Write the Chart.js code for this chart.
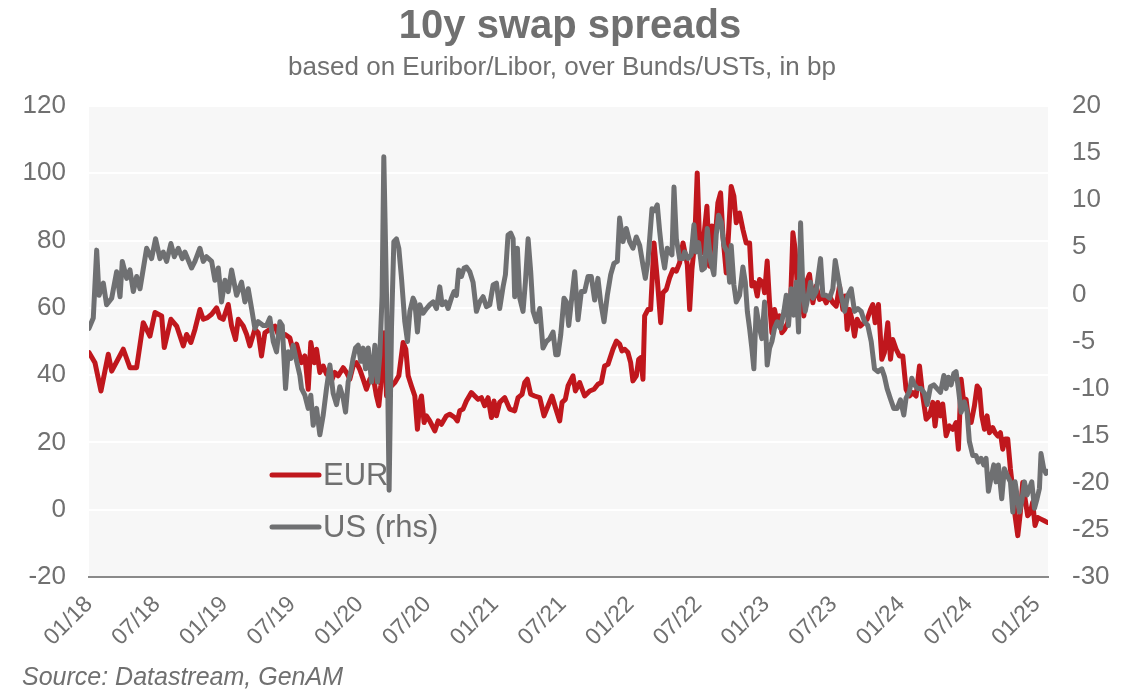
<!DOCTYPE html>
<html><head><meta charset="utf-8">
<script src="https://cdn.jsdelivr.net/npm/chart.js@4.4.1/dist/chart.umd.min.js"></script>
<style>html,body{margin:0;padding:0;background:#fff;}canvas{display:block;}</style>
</head><body>
<canvas id="c" width="1138" height="690"></canvas>
<script>
// x positions are months since Jan 2018
const tickLabels = ['01/18','07/18','01/19','07/19','01/20','07/20','01/21','07/21','01/22','07/22','01/23','07/23','01/24','07/24','01/25'];

const eurMonths = [0,0.53,1.06,1.71,2.01,3.04,3.63,4.22,4.81,5.4,5.85,6.44,6.67,7.26,7.77,8.36,8.65,9.03,9.39,9.83,10.13,10.5,10.87,11.31,11.6,11.9,12.34,12.64,12.99,13.23,13.67,13.97,14.26,14.7,15.0,15.29,15.59,16.03,16.48,16.77,17.36,17.8,18.1,18.4,18.84,19.13,19.43,19.66,19.96,20.17,20.46,20.76,21.05,21.35,21.49,21.79,22.08,22.53,22.82,23.12,23.41,23.71,24.0,24.3,24.59,24.89,25.18,25.48,25.69,25.86,26.16,26.37,26.52,26.81,27.11,27.46,27.84,28.08,28.29,28.58,28.88,29.11,29.32,29.47,29.7,29.91,30.2,30.65,30.94,31.24,31.68,31.97,32.42,32.65,32.86,33.15,33.45,33.89,34.19,34.48,34.78,35.07,35.37,35.67,35.9,36.11,36.4,36.85,37.29,37.73,38.03,38.38,38.62,38.85,39.15,39.5,39.95,40.33,40.69,41.04,41.34,41.72,41.93,42.22,42.46,42.9,43.11,43.49,43.93,44.38,44.76,45.11,45.41,45.7,46.0,46.44,46.74,47.03,47.24,47.48,47.77,48.01,48.21,48.51,48.72,48.9,49.1,49.25,49.54,49.78,50.08,50.37,50.67,50.87,51.17,51.46,51.76,52.06,52.35,52.65,53.03,53.24,53.44,53.68,53.91,54.12,54.33,54.56,54.77,55.0,55.21,55.45,55.74,55.98,56.19,56.48,56.69,56.92,57.16,57.37,57.66,57.96,58.25,58.55,58.75,58.99,59.23,59.43,59.73,59.88,60.11,60.32,60.53,60.76,61.0,61.2,61.41,61.65,61.94,62.18,62.39,62.59,62.83,63.07,63.36,63.57,63.86,64.16,64.45,64.75,65.05,65.34,65.64,65.93,66.23,66.52,66.82,67.02,67.2,67.41,67.62,67.85,68.09,68.38,68.68,68.97,69.27,69.47,69.68,69.97,70.27,70.5,70.8,71.04,71.24,71.54,71.83,72.13,72.42,72.72,73.01,73.31,73.61,73.9,74.2,74.49,74.79,74.99,75.23,75.47,75.67,75.97,76.26,76.56,76.85,77.06,77.3,77.53,77.74,77.98,78.19,78.48,78.72,78.93,79.13,79.37,79.6,79.81,80.1,80.31,80.55,80.78,80.99,81.2,81.43,81.67,81.88,82.08,82.32,82.55,82.76,82.97,83.2,83.44,83.64,83.85,84.08,84.38,84.67,84.97];
const eurValues = [46.7,43.7,35.3,46.2,41.2,47.7,42.2,42.2,55.6,51.6,58.6,57.6,48.2,56.6,54.6,48.7,52.1,49.7,53.6,59.5,56.6,57.1,58.1,60.0,57.1,56.6,61.0,54.6,50.6,56.6,54.6,52.1,48.7,53.6,52.6,45.7,52.6,53.6,54.6,52.1,52.1,51.1,47.2,49.2,43.7,45.7,35.8,49.7,43.7,47.7,40.8,42.7,40.3,41.7,38.3,40.8,39.8,42.2,40.8,38.8,42.7,43.7,41.7,38.8,35.8,38.8,39.8,33.8,30.9,36.8,52.6,33.8,35.8,36.8,37.8,39.8,49.7,47.7,39.8,36.8,33.8,23.9,31.9,33.8,25.9,27.9,26.4,23.4,26.4,25.4,27.9,28.4,27.4,26.4,29.4,29.9,32.3,34.8,33.8,32.8,33.3,30.9,33.3,27.4,32.3,27.9,31.9,33.3,29.9,29.4,33.3,34.3,37.8,38.8,34.3,33.8,33.3,27.9,30.9,33.8,30.4,26.4,31.9,32.8,36.8,39.8,35.3,37.8,33.8,35.3,35.8,37.3,37.8,42.7,43.2,47.7,50.1,49.2,47.2,47.7,46.7,43.7,38.3,39.8,44.7,45.2,38.8,57.6,59.5,59.5,79.3,68.4,55.6,64.5,65.5,68.9,71.4,70.9,73.4,79.3,72.9,59.5,71.4,79.3,100.1,79.3,76.4,83.3,90.2,72.4,84.3,78.3,91.2,94.2,81.3,70.4,82.3,96.1,93.2,85.3,88.2,83.3,79.3,79.3,66.5,67.5,63.5,68.4,67.5,64.5,73.9,61.5,52.6,59.5,55.6,57.6,52.6,53.6,55.6,61.5,82.3,77.4,63.5,65.5,57.6,67.5,70.0,61.5,66.5,62.5,63.5,61.5,63.5,61.5,60.5,66.5,59.5,63.5,53.6,59.5,56.6,51.6,56.6,54.6,55.6,56.6,59.5,61.0,55.6,61.0,44.7,46.7,55.6,44.7,50.6,47.7,45.7,45.7,35.8,33.8,34.8,33.8,42.7,33.8,26.9,27.9,31.9,24.9,31.9,27.9,31.4,22.0,24.9,23.9,25.9,18.0,38.8,31.9,32.8,25.9,25.9,30.9,36.8,35.8,27.9,23.9,27.9,22.9,24.4,22.9,21.9,22.9,18.0,21.0,21.0,12.1,6.1,-1.8,-7.7,-0.8,8.1,3.2,-1.8,-0.8,2.2,-4.7,-2.3,-2.8,-3.3,-3.8];

const usMonths = [0,0.38,0.68,0.89,1.27,1.56,2.01,2.45,2.75,2.95,3.34,3.63,3.93,4.22,4.52,5.11,5.55,5.9,6.29,6.58,6.88,7.26,7.56,7.91,8.27,8.5,9.09,9.39,9.83,10.13,10.42,10.87,11.16,11.46,11.75,12.05,12.34,12.64,13.08,13.52,13.82,14.11,14.41,14.7,15.0,15.44,15.74,16.03,16.33,16.62,16.92,17.13,17.42,17.66,17.89,18.1,18.4,18.69,18.84,19.13,19.43,19.66,19.87,20.17,20.46,20.76,21.05,21.35,21.64,21.94,22.23,22.53,22.74,22.97,23.21,23.41,23.62,23.86,24.09,24.3,24.51,24.75,25.04,25.34,25.57,25.78,25.98,26.13,26.37,26.6,26.81,27.02,27.25,27.46,27.7,27.99,28.23,28.44,28.73,28.88,29.11,29.32,29.61,29.91,30.2,30.5,30.8,31.09,31.3,31.6,31.83,32.12,32.36,32.57,32.77,33.01,33.25,33.45,33.75,34.04,34.34,34.63,34.93,35.23,35.52,35.82,36.11,36.4,36.7,36.91,37.14,37.38,37.59,37.73,37.97,38.18,38.47,38.68,38.92,39.15,39.36,39.65,39.95,40.24,40.54,40.83,41.13,41.37,41.57,41.81,42.1,42.31,42.52,42.75,43.05,43.34,43.64,43.93,44.23,44.52,44.82,45.11,45.35,45.65,45.94,46.24,46.53,46.83,47.03,47.33,47.62,47.92,48.21,48.51,48.81,49.1,49.31,49.54,49.9,50.13,50.37,50.58,50.78,51.02,51.25,51.46,51.67,51.85,52.06,52.35,52.65,52.79,53.09,53.38,53.62,53.82,54.03,54.33,54.56,54.8,55.1,55.39,55.59,55.8,56.04,56.27,56.57,56.78,56.92,57.16,57.37,57.66,57.96,58.17,58.35,58.55,58.75,58.93,59.14,59.43,59.64,59.88,60.11,60.32,60.53,60.76,61.0,61.29,61.59,61.8,62.0,62.24,62.48,62.68,62.89,63.07,63.27,63.48,63.71,63.95,64.16,64.45,64.84,65.05,65.34,65.64,65.93,66.14,66.37,66.67,66.97,67.26,67.56,67.85,68.15,68.44,68.74,69.03,69.33,69.62,69.92,70.27,70.5,70.74,71.04,71.33,71.63,71.92,72.22,72.42,72.72,72.93,73.16,73.46,73.75,74.05,74.29,74.58,74.88,75.17,75.47,75.77,75.97,76.17,76.41,76.65,76.85,77.06,77.3,77.59,77.83,78.03,78.33,78.62,78.83,79.07,79.3,79.51,79.72,79.95,80.19,80.4,80.6,80.9,81.13,81.37,81.67,81.88,82.08,82.26,82.47,82.67,82.91,83.15,83.35,83.56,83.8,84.03,84.24,84.38,84.62,84.82,84.97];
const usValues = [-3.6,-2.5,4.7,-0.1,1.2,-1.1,-0.4,2.4,-0.25,3.5,1.7,2.6,0.3,1.9,0.6,4.9,3.8,5.9,3.8,4.5,3.5,5.4,4.0,4.9,3.8,4.5,2.8,3.5,4.9,3.5,4.0,3.5,1.5,2.8,-0.8,1.5,0.3,2.6,-0.1,1.3,-0.8,0.6,-1.5,-3.6,-2.9,-3.3,-3.3,-2.5,-5.0,-6.1,-2.9,-3.3,-10.0,-6.1,-6.8,-5.4,-7.1,-8.6,-10.0,-10.7,-12.1,-10.7,-13.9,-12.1,-14.9,-12.8,-10.0,-7.5,-10.5,-11.7,-9.8,-11.0,-12.5,-9.3,-8.2,-6.8,-5.7,-5.4,-7.1,-5.7,-7.9,-5.7,-9.3,-5.4,-9.3,-6.4,-0.1,14.6,-0.1,-20.8,-3.6,5.6,5.9,4.9,1.7,-2.9,-5.0,-1.8,-0.4,-0.8,-4.0,-1.1,-2.0,-1.5,-1.1,-0.8,-1.5,0.8,-1.1,-0.8,-1.5,-0.4,0.3,-0.1,2.6,1.9,2.8,2.9,2.4,1.3,-1.8,-0.8,-0.25,-1.3,-1.1,1.0,1.2,-1.5,0.8,2.1,6.3,6.5,5.9,-0.25,4.9,-0.4,-1.8,1.3,5.9,2.4,-1.8,-2.9,-1.5,-5.7,-5.0,-4.7,-4.0,-6.4,-6.4,-4.3,-0.4,-0.8,-3.3,-0.8,2.4,-2.7,0.3,0.3,1.9,1.9,-0.6,1.7,-0.8,-2.9,-0.1,2.1,3.3,3.5,8.1,5.6,7.0,5.6,4.9,6.1,5.2,3.1,1.7,3.5,9.1,8.9,9.5,6.7,4.5,2.8,4.9,4.5,4.2,11.4,5.9,3.8,3.8,4.5,3.8,4.2,7.4,4.5,5.5,2.6,2.8,7.0,3.5,2.1,6.3,8.4,7.7,5.2,4.5,1.3,5.2,1.0,-0.8,-0.1,2.9,1.3,-1.8,-3.6,-5.7,-7.9,-1.5,-3.6,-4.7,-0.8,-7.5,-5.7,-5.0,-3.6,-2.9,-3.6,-1.8,-0.1,-3.3,0.6,-2.2,1.3,-4.0,7.6,0.6,-1.8,-0.4,1.3,-0.4,0.3,3.8,-0.1,-0.1,-0.4,0.6,3.6,2.0,-0.1,-1.8,-0.1,0.6,-1.8,-1.5,-1.8,-2.9,-3.3,-5.0,-7.9,-8.2,-7.9,-8.7,-10.0,-11.1,-12.1,-12.1,-11.2,-12.8,-11.0,-10.3,-8.9,-9.6,-10.0,-10.0,-10.5,-11.7,-9.8,-9.6,-10.0,-10.4,-8.6,-10.0,-8.8,-9.6,-8.4,-8.2,-10.0,-12.5,-11.4,-12.5,-15.6,-17.1,-17.1,-17.8,-17.4,-18.1,-17.4,-20.9,-19.5,-18.1,-19.9,-18.1,-21.7,-18.5,-19.2,-19.9,-23.1,-19.9,-21.3,-23.1,-22.0,-19.9,-21.3,-20.6,-19.9,-22.7,-21.7,-20.6,-16.9,-18.5,-19.0,-18.8];

const FONT = "'Liberation Sans', Arial, sans-serif";
const TXT = '#707070';
const RED = '#c0171d';
const GRAY = '#6f7072';

const decor = {
  id: 'decor',
  beforeDraw(chart) {
    const {ctx, chartArea: a} = chart;
    ctx.save();
    ctx.fillStyle = '#f7f7f7';
    ctx.fillRect(a.left, a.top, a.right - a.left, a.bottom - a.top);
    ctx.restore();
  },
  beforeDatasetsDraw(chart) {
    const ctx = chart.ctx;
    ctx.save();
    ctx.lineWidth = 5; ctx.lineCap = 'round';
    [[RED, 'EUR', 475], [GRAY, 'US (rhs)', 527]].forEach(([col, lab, y]) => {
      ctx.strokeStyle = col;
      ctx.beginPath(); ctx.moveTo(272, y); ctx.lineTo(319, y); ctx.stroke();
      ctx.fillStyle = TXT; ctx.font = '31px ' + FONT;
      ctx.textAlign = 'left'; ctx.textBaseline = 'middle';
      ctx.fillText(lab, 323, y + 1);
    });
    ctx.restore();
  },
  afterDraw(chart) {
    const ctx = chart.ctx;
    ctx.save();
    ctx.fillStyle = TXT; ctx.textAlign = 'center'; ctx.textBaseline = 'alphabetic';
    ctx.font = 'bold 40px ' + FONT;
    ctx.fillText('10y swap spreads', 570, 38);
    ctx.font = '26px ' + FONT;
    ctx.fillText('based on Euribor/Libor, over Bunds/USTs, in bp', 562, 75);
    ctx.textAlign = 'left';
    ctx.font = 'italic 25px ' + FONT;
    ctx.fillText('Source: Datastream, GenAM', 22, 685);
    ctx.restore();
  }
};

new Chart(document.getElementById('c'), {
  type: 'line',
  data: {
    datasets: [
      { label: 'US (rhs)', yAxisID: 'y1', order: 0,
        data: usMonths.map((m, i) => ({x: m, y: usValues[i]})),
        borderColor: GRAY, borderWidth: 5, pointRadius: 0, tension: 0, borderJoinStyle: 'round', borderCapStyle: 'round' },
      { label: 'EUR', yAxisID: 'y', order: 1,
        data: eurMonths.map((m, i) => ({x: m, y: eurValues[i]})),
        borderColor: RED, borderWidth: 5, pointRadius: 0, tension: 0, borderJoinStyle: 'round', borderCapStyle: 'round' }
    ]
  },
  options: {
    responsive: false, animation: false, devicePixelRatio: 1,
    layout: { padding: { top: 106, left: 0, right: 0, bottom: 0 } },
    plugins: { legend: { display: false }, tooltip: { enabled: false } },
    scales: {
      x: {
        type: 'linear', min: 0, max: 85, position: 'bottom',
        grid: { display: false },
        border: { display: true, color: '#8a8a8a', width: 2 },
        ticks: { stepSize: 6, includeBounds: false, autoSkip: false, minRotation: 45, maxRotation: 45, padding: 6,
          color: TXT, font: { family: FONT, size: 23 },
          callback: v => (v % 6 === 0 && tickLabels[v / 6]) ? tickLabels[v / 6] : '' },
        afterFit: s => { s.height = 690 - 577; }
      },
      y: {
        position: 'left', min: -20, max: 120,
        grid: { color: '#ffffff', lineWidth: 2, drawTicks: false },
        border: { display: false },
        ticks: { stepSize: 20, padding: 23, color: TXT, font: { family: FONT, size: 26 } },
        afterFit: s => { s.width = 89; }
      },
      y1: {
        position: 'right', min: -30, max: 20,
        grid: { display: false, drawTicks: false },
        border: { display: false },
        ticks: { stepSize: 5, padding: 24, color: TXT, font: { family: FONT, size: 26 } },
        afterFit: s => { s.width = 90; }
      }
    }
  },
  plugins: [decor]
});
</script>
</body></html>
